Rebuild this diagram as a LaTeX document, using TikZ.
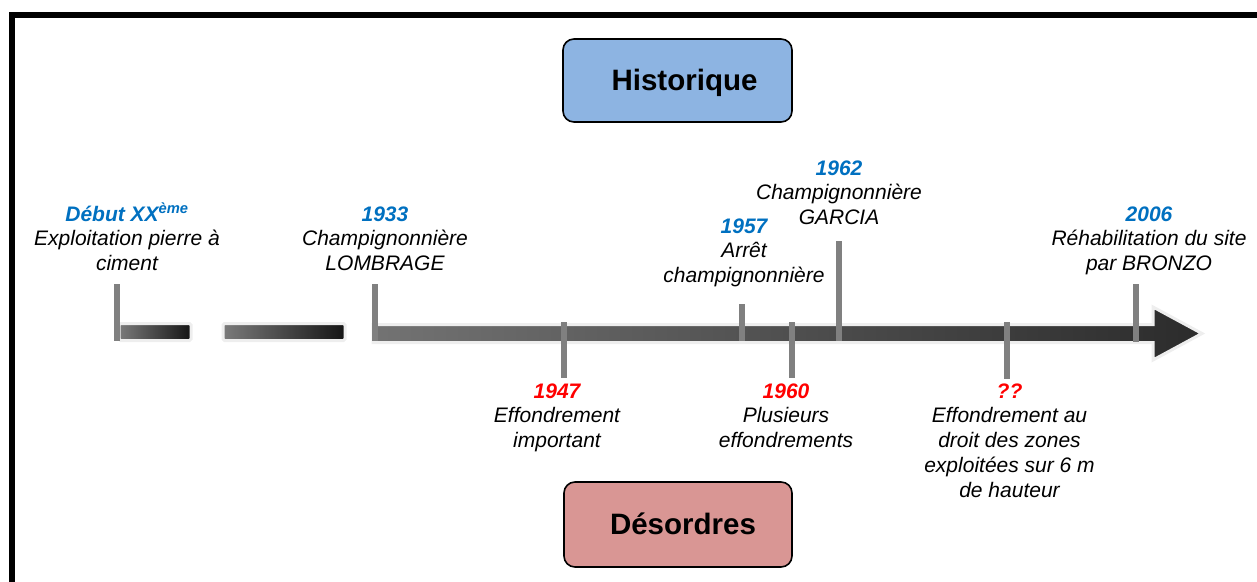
\documentclass[tikz,border=0pt]{standalone}
\usepackage{fontspec}
\setmainfont{Liberation Sans}
\definecolor{yearblue}{RGB}{0,112,192}
\definecolor{yearred}{RGB}{255,0,0}
\definecolor{boxblue}{RGB}{141,180,226}
\definecolor{boxred}{RGB}{217,150,148}
\definecolor{tickgray}{RGB}{128,128,128}
\definecolor{halo}{RGB}{238,238,238}

\newcommand{\firstline}{\rule{0pt}{20pt}}
\newcommand{\yb}[1]{{\bfseries\color{yearblue}#1}}
\newcommand{\yr}[1]{{\bfseries\color{yearred}#1}}

\begin{document}
\begin{tikzpicture}[x=1pt,y=-1pt,
  event/.style={anchor=north, inner sep=0pt, align=center,
    font=\fontsize{21}{24.7}\selectfont\itshape},
  tick/.style={draw=tickgray, line width=6pt},
  titlebox/.style={draw=black, line width=1.6pt, rounded corners=11pt},
  titletext/.style={inner sep=0pt, anchor=base,
    font=\fontsize{29.5}{34}\selectfont\bfseries},
  bar/.style={draw=halo, line width=3pt, left color=black!52, right color=black!92,
    rounded corners=1.5pt},
  mainarrow/.style={draw=halo, line width=3pt, left color=black!55, right color=black!83}
]
\useasboundingbox (0,0) rectangle (1257,581);
\clip (0,0) rectangle (1257,581);

% outer frame (runs off the right and bottom edges)
\draw[line width=6pt] (12,15) -- (1270,15);
\draw[line width=6pt] (12,12) -- (12,600);

% title boxes
\node[titlebox, fill=boxblue, minimum width=229pt, minimum height=83pt] (hist) at (677.5,80.5) {};
\node[titletext] (histtxt) at (684.5,90) {Historique};
\node[titlebox, fill=boxred, minimum width=228pt, minimum height=85pt] (des) at (678,524.5) {};
\node[titletext] (destxt) at (683,534) {Désordres};

% timeline bars
\path[bar] (119,323.5) rectangle (191,340.5);
\path[bar] (223,323.5) rectangle (345,340.5);
\path[mainarrow] (373,324.5) -- (1153,324.5) -- (1153,307) -- (1202,333.5)
  -- (1153,360) -- (1153,342.5) -- (373,342.5) -- cycle;

% tick marks
\coordinate (d0a) at (117,284);  \coordinate (d0b) at (117,341);
\coordinate (d1a) at (375,284);  \coordinate (d1b) at (375,341);
\coordinate (d2a) at (564,322);  \coordinate (d2b) at (564,378);
\coordinate (d3a) at (742,304);  \coordinate (d3b) at (742,341);
\coordinate (d4a) at (792,322);  \coordinate (d4b) at (792,378);
\coordinate (d5a) at (839,241);  \coordinate (d5b) at (839,341);
\coordinate (d6a) at (1007,322); \coordinate (d6b) at (1007,379);
\coordinate (d7a) at (1136,284); \coordinate (d7b) at (1136,342);
\foreach \t in {d0,d1,d2,d3,d4,d5,d6,d7}
  \draw[tick] (\t a) -- (\t b);

% events above the line
\node[event] (e0) at (127,201) {\firstline\yb{Début XX\textsuperscript{ème}}\\Exploitation pierre à\\ciment};
\node[event] (e1) at (385,201) {\firstline\yb{1933}\\Champignonnière\\LOMBRAGE};
\node[event] (e3) at (744,213) {\firstline\yb{1957}\\Arrêt\\champignonnière};
\node[event] (e5) at (839,155) {\firstline\yb{1962}\\Champignonnière\\GARCIA};
\node[event] (e7) at (1149,201) {\firstline\yb{2006}\\Réhabilitation du site\\par BRONZO};

% events below the line
\node[event] (e2) at (557,378) {\firstline\yr{1947}\\Effondrement\\important};
\node[event] (e4) at (786,378) {\firstline\yr{1960}\\Plusieurs\\effondrements};
\node[event] (e6) at (1009.5,378) {\firstline\yr{??}\\Effondrement au\\droit des zones\\exploitées sur 6 m\\de hauteur};
\end{tikzpicture}
\end{document}
